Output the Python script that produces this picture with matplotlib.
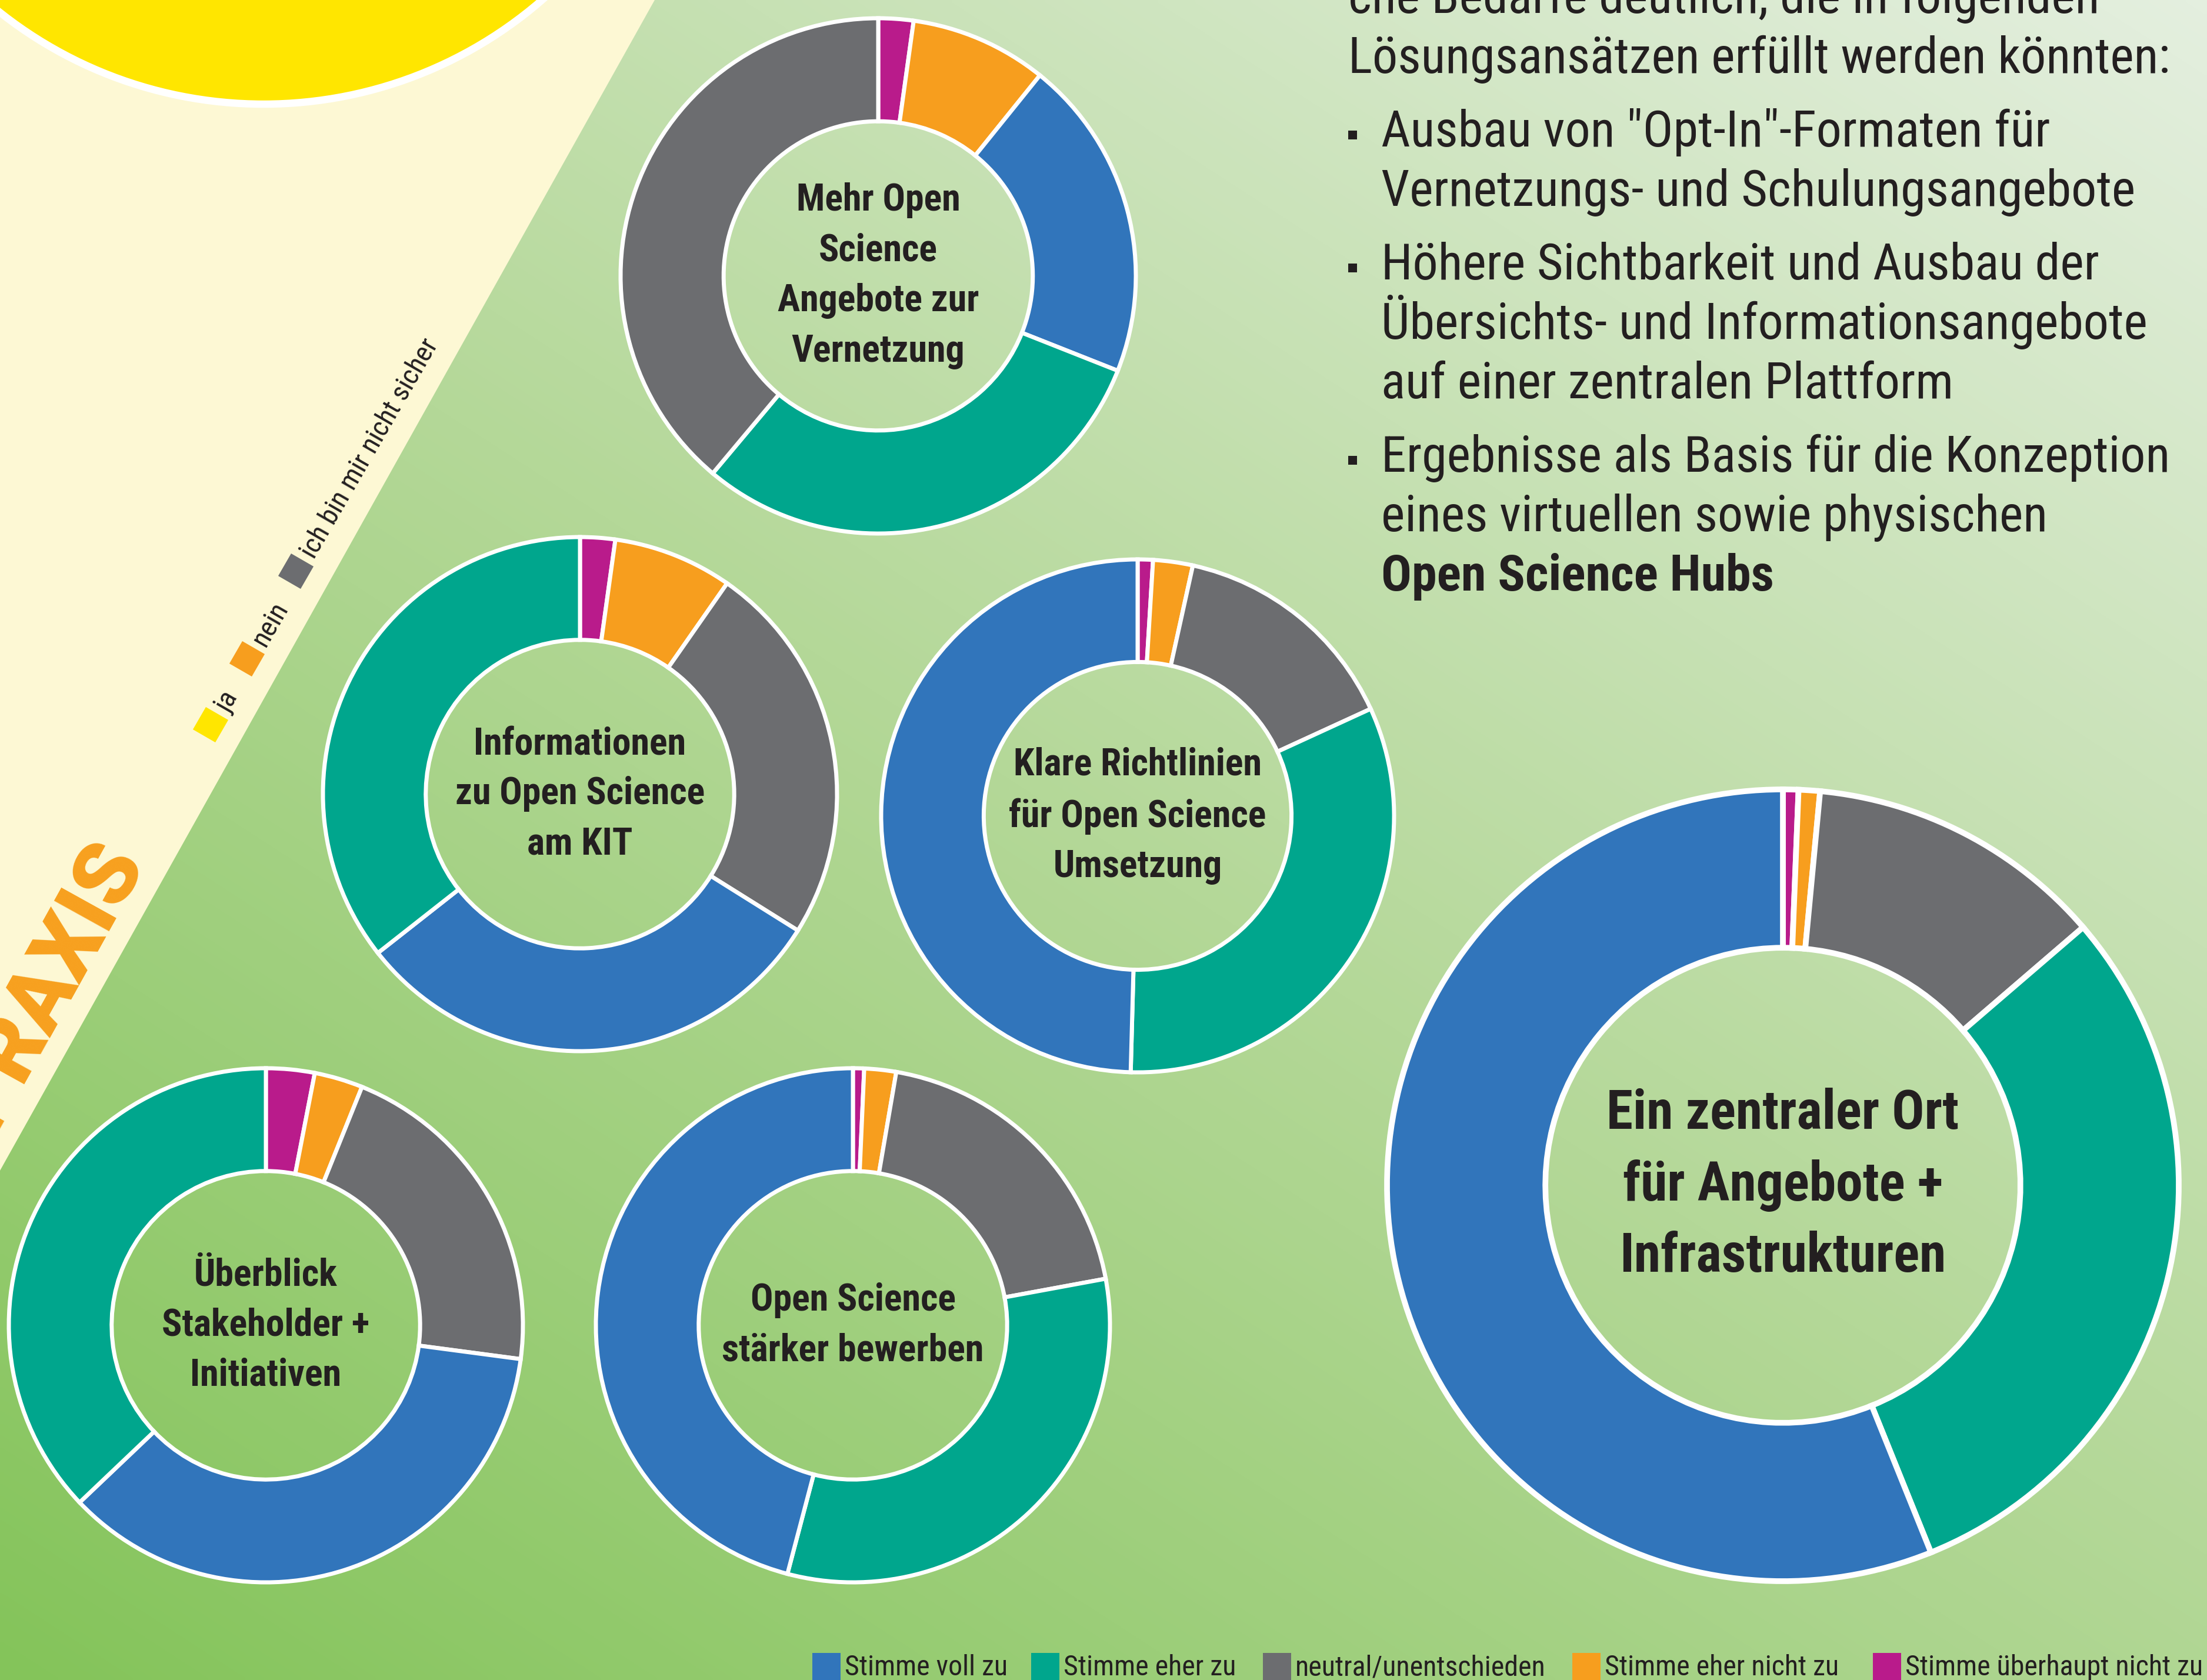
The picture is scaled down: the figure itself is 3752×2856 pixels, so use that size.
import numpy as np
import matplotlib.pyplot as plt
import matplotlib.transforms as mtransforms
from matplotlib.patches import Polygon, Circle, Rectangle
from matplotlib.colors import LinearSegmentedColormap

W, H = 3752, 2856

# Antwortkategorien (Reihenfolge wie in der Legende unten)
kategorien = ['Stimme voll zu', 'Stimme eher zu', 'neutral/unentschieden',
              'Stimme eher nicht zu', 'Stimme überhaupt nicht zu']
farben = ['#3175bb', '#00a68d', '#6c6d70', '#f79e1e', '#b91b8b']

# Aussagen, ein Donut je Aussage
aussagen = ['Mehr Open\nScience\nAngebote zur\nVernetzung',
            'Informationen\nzu Open Science\nam KIT',
            'Klare Richtlinien\nfür Open Science\nUmsetzung',
            'Überblick\nStakeholder +\nInitiativen',
            'Open Science\nstärker bewerben',
            'Ein zentraler Ort\nfür Angebote +\nInfrastrukturen']

# Anteile in % (aus dem Bild geschätzt)
voll_zu = [20.2, 30.5, 49.6, 35.8, 45.9, 56.1]
eher_zu = [30.1, 35.6, 32.3, 37.1, 32.0, 30.2]
neutral = [38.9, 24.2, 14.7, 21.0, 19.4, 12.2]
eher_nicht = [8.6, 7.5, 2.5, 3.05, 2.0, 0.87]
gar_nicht = [2.2, 2.2, 0.96, 3.05, 0.7, 0.63]

# Legende im gelben Streifen
ja_nein = ['ja', 'nein', 'ich bin mir nicht sicher']
ja_nein_farben = ['#ffe600', '#f79e1e', '#6c6d70']

# Text oben rechts
intro = ['che Bedarfe deutlich, die in folgenden',
         'Lösungsansätzen erfüllt werden könnten:']
punkte = [['Ausbau von "Opt-In"-Formaten für',
           'Vernetzungs- und Schulungsangebote'],
          ['Höhere Sichtbarkeit und Ausbau der',
           'Übersichts- und Informationsangebote',
           'auf einer zentralen Plattform'],
          ['Ergebnisse als Basis für die Konzeption',
           'eines virtuellen sowie physischen',
           'Open Science Hubs']]

NARROW = ['Roboto Condensed', 'DejaVu Sans']
DUNKEL = '#231f20'

# Donut-Positionen in Pixeln (x, y von oben, Radius)
donut_pos = [(1493, 469, 438), (986, 1350, 437), (1934, 1387, 436),
             (452, 2253, 437), (1450, 2253, 437), (3031, 2015, 673)]


def Y(y):
    return H - y


fig = plt.figure(figsize=(W / 100, H / 100), dpi=100)
ax = fig.add_axes([0, 0, 1, 1])

# Hintergrund-Verlauf (oben rechts hell -> unten links kräftig grün)
xx, yy = np.meshgrid(np.linspace(0, 1, 500), np.linspace(0, 1, 400))
t = 0.46 * (1 - xx) + 0.54 * yy
bg = LinearSegmentedColormap.from_list('bg', ['#e4efdf', '#b4d898', '#84c45a'])
ax.imshow(t, cmap=bg, vmin=0, vmax=1, extent=(0, W, 0, H), origin='upper',
          interpolation='bilinear', zorder=0)

# heller Streifen links oben + gelber Kreis
ax.add_patch(Polygon([(0, H), (1113, H), (0, Y(1990))], closed=True,
                     facecolor='#fdf8d4', edgecolor='none'))
ax.add_patch(Circle((448, Y(-545)), 722, facecolor='#ffe600',
                    edgecolor='white', linewidth=9))

ax.text(245, Y(1462), 'PRAXIS', rotation=61, rotation_mode='anchor',
        ha='right', va='baseline', fontsize=108, fontweight='black',
        family=['Roboto', 'DejaVu Sans'], color='#f7a01e')

# ja / nein Legende (gedreht)
ang = 60
u = np.array([np.cos(np.radians(ang)), np.sin(np.radians(ang))])
quad_pos = [(358, 1232), (420, 1120), (503, 971)]
s = 44
for (qx, qy), lab, fc in zip(quad_pos, ja_nein, ja_nein_farben):
    tr = mtransforms.Affine2D().rotate_deg(ang).translate(qx, Y(qy)) + ax.transData
    ax.add_patch(Rectangle((-s / 2, -s / 2), s, s, facecolor=fc,
                           edgecolor='none', transform=tr))
    px, py = np.array([qx, Y(qy)]) + u * (s / 2 + 10)
    ax.text(px, py, lab, rotation=ang, rotation_mode='anchor', ha='left',
            va='center_baseline', fontsize=34, family=NARROW,
            fontstretch='condensed', color=DUNKEL)

# Donuts
for i, (cx, cy, r) in enumerate(donut_pos):
    werte = np.array([gar_nicht[i], eher_nicht[i], neutral[i], eher_zu[i], voll_zu[i]])
    cols = np.array([farben[4], farben[3], farben[2], farben[1], farben[0]])
    order = np.argsort(werte, kind='stable')
    big = r > 500
    ax.pie(werte[order], colors=cols[order], radius=r, center=(cx, Y(cy)),
           startangle=90, counterclock=False,
           wedgeprops=dict(width=0.4 * r, edgecolor='white',
                           linewidth=7 if big else 5))
    ax.text(cx, Y(cy), aussagen[i], ha='center', va='center',
            multialignment='center', fontsize=66 if big else 46,
            fontweight='bold', family=NARROW, fontstretch='condensed',
            color=DUNKEL, linespacing=1.47 if big else 1.51)

# Text oben rechts
x0, xb = 2292, 2352
ax.text(x0, Y(22), intro[0], ha='left', va='baseline', fontsize=62,
        family=NARROW, fontstretch='condensed', color=DUNKEL)
ax.text(x0, Y(124), intro[1], ha='left', va='baseline', fontsize=62,
        family=NARROW, fontstretch='condensed', color=DUNKEL)
y = 124
for block in punkte:
    y += 125
    ax.add_patch(Rectangle((x0, Y(y - 12)), 15, 15, facecolor=DUNKEL,
                           edgecolor='none'))
    for j, line in enumerate(block):
        if j > 0:
            y += 101
        bold = line == 'Open Science Hubs'
        ax.text(xb - 4, Y(y), line, ha='left', va='baseline', fontsize=62,
                fontweight='bold' if bold else 'normal', family=NARROW,
                fontstretch='condensed', color=DUNKEL)

# Legende unten
leg_x = [1381, 1753, 2147, 2673, 3184]
for lx, lab, c in zip(leg_x, kategorien, farben):
    ax.add_patch(Rectangle((lx, 0), 48, 46, facecolor=c, edgecolor='none'))
    ax.text(lx + 55, Y(2848), lab, ha='left', va='baseline', fontsize=34.5,
            family=NARROW, fontstretch='condensed', color=DUNKEL)

ax.set_xlim(0, W)
ax.set_ylim(0, H)
ax.set_aspect('equal')
ax.axis('off')

fig.savefig('out.png', dpi=100)
